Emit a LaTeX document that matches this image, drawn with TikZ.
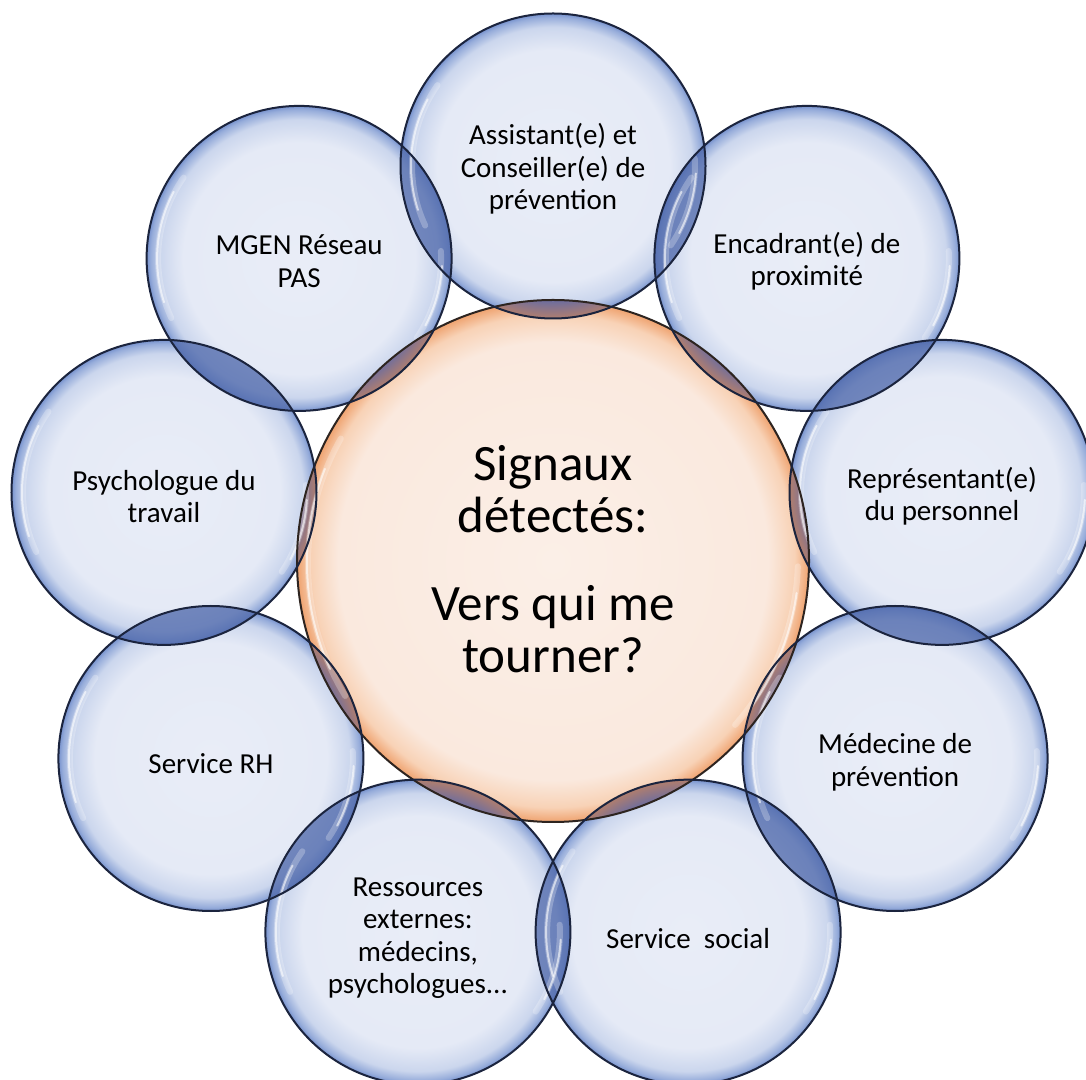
\documentclass[tikz,border=0pt]{standalone}
\usepackage{fontspec}
\setmainfont{Carlito}
\usetikzlibrary{shapes.geometric,calc}
\definecolor{bIn}{RGB}{233,237,247}
\definecolor{bIn2}{RGB}{229,234,246}
\definecolor{bMid}{RGB}{203,214,237}
\definecolor{bOut2}{RGB}{150,172,218}
\definecolor{bOut}{RGB}{118,145,205}
\definecolor{oIn}{RGB}{251,239,231}
\definecolor{oIn2}{RGB}{250,233,222}
\definecolor{oMid}{RGB}{248,210,182}
\definecolor{oOut}{RGB}{239,163,112}
\definecolor{bBorder}{RGB}{27,36,62}
\definecolor{oBorder}{RGB}{45,36,32}
\definecolor{lensBB}{RGB}{76,102,170}
\definecolor{lboA}{RGB}{104,108,162}
\definecolor{lboB}{RGB}{176,126,110}
\pgfdeclareradialshading{bluebub}{\pgfpoint{0bp}{0bp}}{color(0bp)=(bIn); color(19bp)=(bIn2); color(22.8bp)=(bMid); color(24.4bp)=(bOut2); color(25bp)=(bOut); color(50bp)=(bOut)}
\pgfdeclareradialshading{orangebub}{\pgfpoint{0bp}{0bp}}{color(0bp)=(oIn); color(21bp)=(oIn2); color(23.6bp)=(oMid); color(25bp)=(oOut); color(50bp)=(oOut)}
\pgfdeclareradialshading{lensbo}{\pgfpoint{0bp}{0bp}}{color(0bp)=(lboA); color(21.8bp)=(lboA); color(25bp)=(lboB); color(50bp)=(lboB)}
\tikzset{
  bubble/.style={circle, minimum size=305pt, inner sep=0pt, shade, shading=bluebub},
  core/.style={ellipse, minimum width=512pt, minimum height=522pt, inner sep=0pt, shade, shading=orangebub},
  lensbb/.style={fill=lensBB, fill opacity=0.75},
  bborder/.style={draw=bBorder, line width=2pt},
  oborder/.style={draw=oBorder, line width=2pt},
  hlsoft/.style={draw=white, line width=6pt, opacity=0.25, line cap=round},
  hlhard/.style={draw=white, line width=2pt, opacity=0.6, line cap=round},
  lbl/.style={align=center, font=\fontsize{29}{32.5}\selectfont, text=black, inner sep=0pt},
  ctext/.style={align=center, font=\fontsize{51}{52}\selectfont, text=black, inner sep=0pt}
}
\begin{document}
\begin{tikzpicture}[x=1pt,y=1pt]
\useasboundingbox (0,0) rectangle (1086,1079);
\clip (0,0) rectangle (1086,1079);
\fill[white] (0,0) rectangle (1086,1079);
\coordinate (O) at (553,518);
% central circle
\node[core] (c) at (O) {};
% bubbles
\foreach \i in {0,...,8}{
  \node[bubble] (b\i) at ([shift={({90-40*\i}:395)}]O) {};
}
% lenses
\foreach \i in {0,...,8}{
  \pgfmathtruncatemacro\j{mod(\i+1,9)}
  \begin{scope}
    \clip (b\i.center) circle[radius=152.5];
    \fill[lensbb] (b\j.center) circle[radius=152.5];
  \end{scope}
  \begin{scope}
    \clip (O) ellipse[x radius=256,y radius=261];
    \shade[shading=lensbo] (b\i.center) circle[radius=152.5];
  \end{scope}
}
% highlights on the centre
\draw[hlsoft] ([shift={(150:245)}]O) arc[start angle=150,end angle=212,x radius=245,y radius=250];
\draw[hlhard] ([shift={(158:246)}]O) arc[start angle=158,end angle=205,x radius=246,y radius=251];
\draw[hlsoft] ([shift={(-42:245)}]O) arc[start angle=-42,end angle=-2,x radius=245,y radius=250];
\draw[hlhard] ([shift={(-36:246)}]O) arc[start angle=-36,end angle=-8,x radius=246,y radius=251];
% highlights on bubbles
\foreach \i in {0,...,8}{
  \draw[hlsoft] ([shift={(145:141)}]b\i.center) arc[start angle=145,end angle=205,radius=141];
  \draw[hlhard] ([shift={(152:142)}]b\i.center) arc[start angle=152,end angle=198,radius=142];
  \draw[hlsoft] ([shift={(-34:142)}]b\i.center) arc[start angle=-34,end angle=3,radius=142];
  \draw[hlhard] ([shift={(-28:143)}]b\i.center) arc[start angle=-28,end angle=-3,radius=143];
}
% borders
\draw[oborder] (O) ellipse[x radius=256,y radius=261];
\foreach \i in {0,...,8}{
  \draw[bborder] (b\i.center) circle[radius=152.5];
}
% texts
\node[ctext] (ct) at ([yshift=2pt]O) {Signaux\\détectés:\\[36pt]Vers qui me\\tourner?};
\node[lbl] (t0) at ([yshift=-3pt]b0.center) {Assistant(e) et\\Conseiller(e) de\\prévention};
\node[lbl] (t1) at ([yshift=-3pt]b1.center) {Encadrant(e) de\\proximité};
\node[lbl] (t2) at ([yshift=-4pt]b2.center) {Représentant(e)\\du personnel};
\node[lbl] (t3) at ([yshift=-4pt]b3.center) {Médecine de\\prévention};
\node[lbl] (t4) at ([yshift=-6pt]b4.center) {Service~~social};
\node[lbl] (t5) at ([yshift=-6pt]b5.center) {Ressources\\externes:\\médecins,\\psychologues...};
\node[lbl] (t6) at ([yshift=-5pt]b6.center) {Service RH};
\node[lbl] (t7) at ([yshift=-4pt]b7.center) {Psychologue du\\travail};
\node[lbl] (t8) at ([yshift=-3pt]b8.center) {MGEN Réseau\\PAS};
\end{tikzpicture}
\end{document}
